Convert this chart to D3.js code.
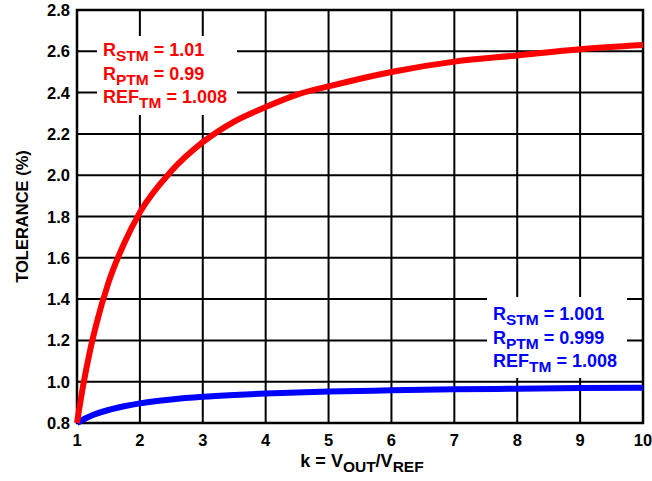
<!DOCTYPE html>
<meta charset="utf-8">
<style>
body { margin: 0; background: #fff; }
text { font-family: "Liberation Sans", Arial, sans-serif; font-weight: bold; }
</style>
<svg></svg>
<script src="https://cdn.jsdelivr.net/npm/d3@7"></script>
<script>

var kValues = [1, 1.1, 1.2, 1.3, 1.5, 1.75, 2, 2.5, 3, 3.5, 4, 4.5, 5, 6, 7, 8, 9, 10];
var redTol  = [0.80, 0.985, 1.14, 1.27, 1.48, 1.67, 1.82, 2.02, 2.16, 2.26, 2.33, 2.39, 2.43, 2.50, 2.55, 2.58, 2.61, 2.63];
var blueTol = [0.80, 0.817, 0.832, 0.844, 0.863, 0.881, 0.895, 0.914, 0.927, 0.936, 0.943, 0.948, 0.952, 0.958, 0.963, 0.966, 0.969, 0.971];

var xTicks = [1, 2, 3, 4, 5, 6, 7, 8, 9, 10];
var yTicks = [0.8, 1.0, 1.2, 1.4, 1.6, 1.8, 2.0, 2.2, 2.4, 2.6, 2.8];

var redLabel  = [["R", "STM", " = 1.01"], ["R", "PTM", " = 0.99"], ["REF", "TM", " = 1.008"]];
var blueLabel = [["R", "STM", " = 1.001"], ["R", "PTM", " = 0.999"], ["REF", "TM", " = 1.008"]];

var width = 652, height = 481;
var margin = {top: 10, right: 9, bottom: 58, left: 77};

var svg = d3.select("svg")
    .attr("width", width)
    .attr("height", height);

var x = d3.scaleLinear().domain([1, 10]).range([margin.left, width - margin.right]);
var y = d3.scaleLinear().domain([0.8, 2.8]).range([height - margin.bottom, margin.top]);

// grid
svg.append("g")
  .selectAll("line")
  .data(xTicks)
  .enter().append("line")
    .attr("x1", function(d) { return x(d); })
    .attr("x2", function(d) { return x(d); })
    .attr("y1", y(0.8))
    .attr("y2", y(2.8))
    .attr("stroke", "#000")
    .attr("stroke-width", 2);

svg.append("g")
  .selectAll("line")
  .data(yTicks)
  .enter().append("line")
    .attr("x1", x(1))
    .attr("x2", x(10))
    .attr("y1", function(d) { return y(d); })
    .attr("y2", function(d) { return y(d); })
    .attr("stroke", "#000")
    .attr("stroke-width", 2);

svg.append("rect")
    .attr("x", x(1))
    .attr("y", y(2.8))
    .attr("width", x(10) - x(1))
    .attr("height", y(0.8) - y(2.8))
    .attr("fill", "none")
    .attr("stroke", "#000")
    .attr("stroke-width", 2.5);

// tick labels
svg.append("g")
  .selectAll("text")
  .data(yTicks)
  .enter().append("text")
    .attr("x", x(1) - 7)
    .attr("y", function(d) { return y(d) + 6; })
    .attr("text-anchor", "end")
    .attr("font-size", 16.5)
    .text(function(d) { return d.toFixed(1); });

svg.append("g")
  .selectAll("text")
  .data(xTicks)
  .enter().append("text")
    .attr("x", function(d) { return x(d); })
    .attr("y", y(0.8) + 23)
    .attr("text-anchor", "middle")
    .attr("font-size", 16.5)
    .text(function(d) { return d; });

// axis titles
var xt = svg.append("text")
    .attr("x", 362)
    .attr("y", 467)
    .attr("text-anchor", "middle")
    .attr("font-size", 18);
xt.append("tspan").text("k = V");
xt.append("tspan").attr("font-size", 15.5).attr("dy", 5).text("OUT");
xt.append("tspan").attr("dy", -5).text("/V");
xt.append("tspan").attr("font-size", 15.5).attr("dy", 5).text("REF");

svg.append("text")
    .attr("transform", "translate(28," + ((y(0.8) + y(2.8)) / 2) + ") rotate(-90)")
    .attr("text-anchor", "middle")
    .attr("font-size", 16.5)
    .text("TOLERANCE (%)");

// label boxes
function label(lines, color, bx, by, bw, bh, tx, ty) {
  svg.append("rect")
      .attr("x", bx).attr("y", by)
      .attr("width", bw).attr("height", bh)
      .attr("fill", "#fff");
  lines.forEach(function(l, i) {
    var t = svg.append("text")
        .attr("x", tx)
        .attr("y", ty + i * 23.5)
        .attr("fill", color)
        .attr("font-size", 18);
    t.append("tspan").text(l[0]);
    t.append("tspan").attr("font-size", 15.5).attr("dy", 5).text(l[1]);
    t.append("tspan").attr("dy", -5).text(l[2]);
  });
}

label(redLabel, "#ff0000", 97, 36, 140, 79, 103, 56);
label(blueLabel, "#0000ff", 487, 297, 140, 81, 493, 320);

// curves
var line = d3.line()
    .x(function(d) { return x(d[0]); })
    .y(function(d) { return y(d[1]); })
    .curve(d3.curveMonotoneX);

svg.append("path")
    .datum(d3.zip(kValues, blueTol))
    .attr("d", line)
    .attr("fill", "none")
    .attr("stroke", "#0000ff")
    .attr("stroke-width", 6);

svg.append("path")
    .datum(d3.zip(kValues, redTol))
    .attr("d", line)
    .attr("fill", "none")
    .attr("stroke", "#ff0000")
    .attr("stroke-width", 6);

</script>
